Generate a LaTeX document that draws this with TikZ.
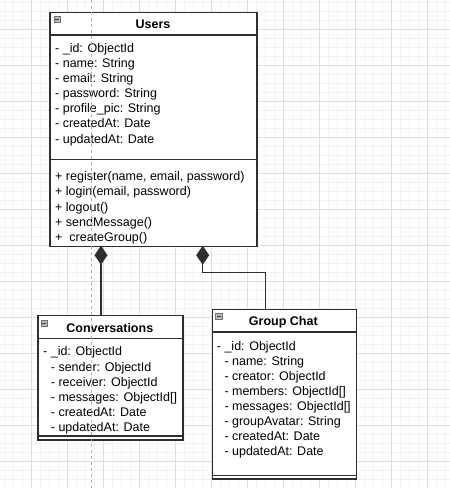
\documentclass[tikz,border=0pt]{standalone}
\usepackage{fontspec}
\setmainfont{Liberation Sans}
\usetikzlibrary{arrows.meta}
\begin{document}
\begin{tikzpicture}[x=1pt,y=-1pt,
  minorgrid/.style={draw=black!5, line width=0.8pt},
  majorgrid/.style={draw=black!13, line width=0.8pt},
  umlbox/.style={draw=black!82, line width=1.3pt, fill=white, rectangle, inner sep=0pt, anchor=north west},
  sepline/.style={draw=black!82, line width=1.3pt},
  attr/.style={anchor=west, inner sep=0pt, text height=9pt, text depth=0pt, font=\fontsize{12.5}{14}\selectfont},
  boxtitle/.style={inner sep=0pt, text height=9pt, text depth=0pt, font=\bfseries\fontsize{12.5}{14}\selectfont},
  icon/.style={rectangle, inner sep=0pt, minimum width=6.5pt, minimum height=5.5pt, fill=black!28, draw=black!55, line width=0.5pt,
    path picture={\draw[black!75, line width=0.9pt] ([xshift=1.4pt]path picture bounding box.west) -- ([xshift=-1.4pt]path picture bounding box.east);}},
  comp/.style={draw=black!82, line width=1.3pt, line join=miter, {Diamond[length=19pt,width=13pt]}-},
  guide/.style={draw=black!30, line width=0.6pt, dash pattern=on 3pt off 3pt}
]
\useasboundingbox (0,0) rectangle (450,488);
\fill[white] (0,0) rectangle (450,488);
% grid
\foreach \i in {0,...,49} { \draw[minorgrid] ({4.3+9*\i},0) -- ({4.3+9*\i},488); }
\foreach \j in {0,...,53} { \draw[minorgrid] (0,{2.3+9*\j}) -- (450,{2.3+9*\j}); }
\foreach \i in {0,...,11} { \draw[majorgrid] ({31.3+36*\i},0) -- ({31.3+36*\i},488); }
\foreach \j in {0,...,12} { \draw[majorgrid] (0,{29.3+36*\j}) -- (450,{29.3+36*\j}); }

% connector coordinates
\coordinate (d1) at (101,245.7);
\coordinate (d2) at (202.7,245.7);
\coordinate (b2) at (265.7,272.3);

% Users
\node[umlbox, minimum width=207pt, minimum height=233.7pt] (users) at (49.3,12) {};
\draw[sepline] ([yshift=-23pt]users.north west) -- ([yshift=-23pt]users.north east);
\draw[sepline] ([yshift=-147.3pt]users.north west) -- ([yshift=-147.3pt]users.north east);
\node[icon] (uicon) at (57,19) {};
\node[boxtitle] (utitle) at (153,24) {Users};
\node[attr] (ua1) at (55,48.3) {- \_id: ObjectId};
\node[attr] (ua2) at (55,63.3) {- name: String};
\node[attr] (ua3) at (55,78.3) {- email: String};
\node[attr] (ua4) at (55,93.3) {- password: String};
\node[attr] (ua5) at (55,108.3) {- profile\_pic: String};
\node[attr] (ua6) at (55,123.3) {- createdAt: Date};
\node[attr] (ua7) at (55,139) {- updatedAt: Date};
\node[attr] (um1) at (55,175.7) {+ register(name, email, password)};
\node[attr] (um2) at (55,191.2) {+ login(email, password)};
\node[attr] (um3) at (55,206.5) {+ logout()};
\node[attr] (um4) at (55,221.7) {+ sendMessage()};
\node[attr] (um5) at (55,237) {+\ \ createGroup()};

% Conversations
\node[umlbox, minimum width=145pt, minimum height=124.3pt] (conv) at (37.3,315) {};
\draw[sepline] ([yshift=-23.3pt]conv.north west) -- ([yshift=-23.3pt]conv.north east);
\draw[sepline] ([yshift=-121pt]conv.north west) -- ([yshift=-121pt]conv.north east);
\node[icon] (cicon) at (44.2,323.4) {};
\node[boxtitle] (ctitle) at (109.8,328) {Conversations};
\node[attr] (ca1) at (43,351) {- \_id: ObjectId};
\node[attr] (ca2) at (50.7,366.7) {- sender: ObjectId};
\node[attr] (ca3) at (50.7,382.3) {- receiver: ObjectId};
\node[attr] (ca4) at (50.7,396.9) {- messages: ObjectId[]};
\node[attr] (ca5) at (50.7,411.9) {- createdAt: Date};
\node[attr] (ca6) at (50.7,427.3) {- updatedAt: Date};

% Group Chat
\node[umlbox, minimum width=143.8pt, minimum height=169.6pt] (group) at (211.7,308.7) {};
\draw[sepline] ([yshift=-23.3pt]group.north west) -- ([yshift=-23.3pt]group.north east);
\draw[sepline] ([yshift=-166.6pt]group.north west) -- ([yshift=-166.6pt]group.north east);
\node[icon] (gicon) at (218.7,316.4) {};
\node[boxtitle] (gtitle) at (283.3,321.3) {Group Chat};
\node[attr] (ga1) at (216.7,345.7) {- \_id: ObjectId};
\node[attr] (ga2) at (224.3,360.7) {- name: String};
\node[attr] (ga3) at (224.3,375.7) {- creator: ObjectId};
\node[attr] (ga4) at (224.3,390.7) {- members: ObjectId[]};
\node[attr] (ga5) at (224.3,405.7) {- messages: ObjectId[]};
\node[attr] (ga6) at (224.3,420.5) {- groupAvatar: String};
\node[attr] (ga7) at (224.3,436) {- createdAt: Date};
\node[attr] (ga8) at (224.3,451) {- updatedAt: Date};

% composition connectors
\draw[comp] (d1) -- (d1 |- conv.north);
\draw[comp] (d2) -- (d2 |- b2) -- (b2) -- (b2 |- group.north);

% guide line
\coordinate (gtop) at (91.3,0);
\coordinate (gbot) at (91.3,488);
\draw[guide] (gtop) -- (gbot);
\end{tikzpicture}
\end{document}
